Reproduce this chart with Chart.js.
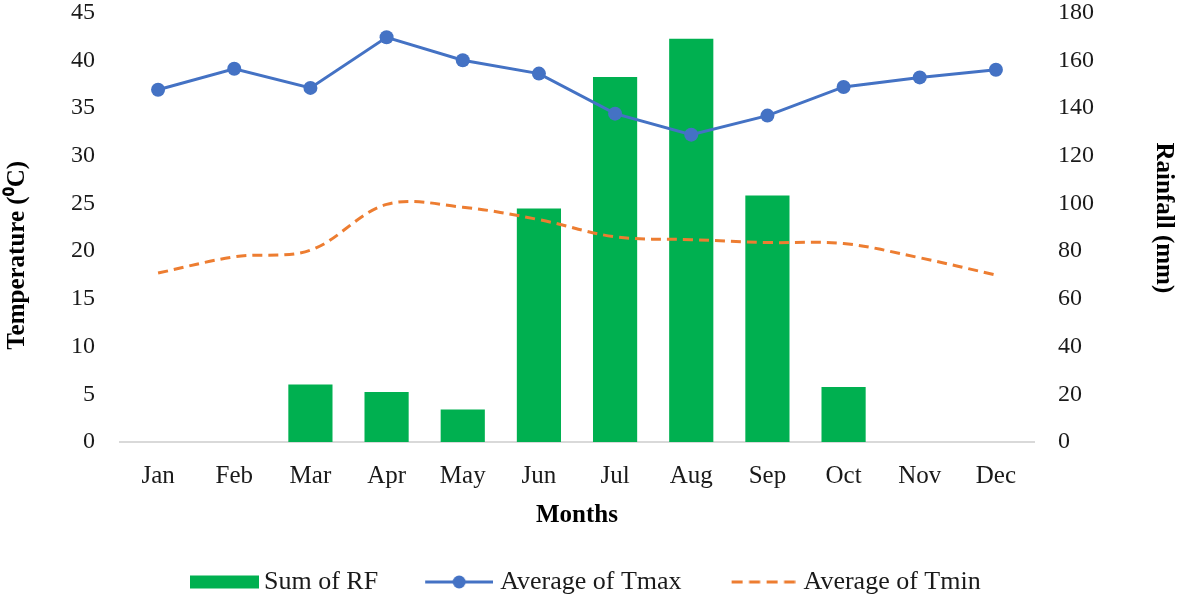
<!DOCTYPE html>
<html>
<head>
<meta charset="utf-8">
<title>Monthly rainfall and temperature</title>
<script src="https://cdn.jsdelivr.net/npm/chart.js@4/dist/chart.umd.min.js"></script>
<style>
    html, body { margin: 0; padding: 0; background: #ffffff; }
    #chartContainer { width: 1181px; height: 599px; }
</style>
</head>
<body>
<div id="chartContainer"><canvas id="climateChart"></canvas></div>
<script>
// Data
const months = ['Jan', 'Feb', 'Mar', 'Apr', 'May', 'Jun', 'Jul', 'Aug', 'Sep', 'Oct', 'Nov', 'Dec'];
const rainfall = [0, 0, 24.1, 21.0, 13.6, 97.9, 153.0, 169.0, 103.3, 23.1, 0, 0];
const tmax = [36.9, 39.1, 37.1, 42.4, 40.0, 38.6, 34.4, 32.2, 34.2, 37.2, 38.2, 39.0];
const tmin = [17.7, 19.4, 20.1, 24.9, 24.6, 23.3, 21.5, 21.2, 20.9, 20.8, 19.3, 17.5];

const seriesNames = ['Sum of RF', 'Average of Tmax', 'Average of Tmin'];
const tempTicks = { min: 0, max: 45, step: 5 };
const rainTicks = { min: 0, max: 180, step: 20 };

const GREEN = '#00B050';
const BLUE = '#4472C4';
const ORANGE = '#ED7D31';
const FONT = "'Liberation Serif', 'Times New Roman', serif";

// Small canvases used as legend symbols
const legendIcon = (width, height, offset, draw) => {
    const c = document.createElement('canvas');
    c.width = width;
    c.height = height;
    const ctx = c.getContext('2d');
    ctx.translate(offset, 0);
    draw(ctx, height / 2);
    return c;
};

const rfIcon = legendIcon(77, 14, 8, (ctx, mid) => {
    ctx.fillStyle = GREEN;
    ctx.fillRect(0, mid - 6.5, 69, 13);
});

const tmaxIcon = legendIcon(73, 16, 5, (ctx, mid) => {
    ctx.strokeStyle = BLUE;
    ctx.lineWidth = 3;
    ctx.beginPath();
    ctx.moveTo(0, mid);
    ctx.lineTo(68, mid);
    ctx.stroke();
    ctx.fillStyle = BLUE;
    ctx.beginPath();
    ctx.arc(34, mid, 6.5, 0, Math.PI * 2);
    ctx.fill();
});

const tminIcon = legendIcon(71, 6, 7, (ctx, mid) => {
    ctx.strokeStyle = ORANGE;
    ctx.lineWidth = 3;
    ctx.setLineDash([11, 6.5]);
    ctx.beginPath();
    ctx.moveTo(0, mid);
    ctx.lineTo(64, mid);
    ctx.stroke();
});

const legendIcons = [rfIcon, tmaxIcon, tminIcon];

// Excel put the legend left of centre, move it after layout
const legendPlacement = {
    id: 'legendPlacement',
    afterLayout(chart) {
        chart.legend.left = 142;
        chart.legend.top = 521;
    }
};

// fixed width for the y axes, and no extra room above the top tick
const fitYAxis = (width) => (scale) => {
    scale.width = width;
    scale.paddingTop = 12.5;
    scale.paddingBottom = 0;
};

const ctx = document.getElementById('climateChart').getContext('2d');

new Chart(ctx, {
    type: 'bar',
    data: {
        labels: months,
        datasets: [
            {
                type: 'bar',
                label: seriesNames[0],
                data: rainfall,
                yAxisID: 'yRain',
                backgroundColor: GREEN,
                borderWidth: 0,
                barPercentage: 0.58,
                categoryPercentage: 1,
                order: 3
            },
            {
                type: 'line',
                label: seriesNames[1],
                data: tmax,
                yAxisID: 'yTemp',
                borderColor: BLUE,
                backgroundColor: BLUE,
                borderWidth: 3,
                pointRadius: 7,
                pointBorderWidth: 0,
                pointBackgroundColor: BLUE,
                tension: 0,
                order: 1
            },
            {
                type: 'line',
                label: seriesNames[2],
                data: tmin,
                yAxisID: 'yTemp',
                borderColor: ORANGE,
                backgroundColor: ORANGE,
                borderWidth: 3,
                borderDash: [10, 6],
                pointRadius: 0,
                tension: 0.35,
                order: 2
            }
        ]
    },
    options: {
        responsive: true,
        maintainAspectRatio: false,
        animation: false,
        layout: { padding: 0 },
        plugins: {
            tooltip: { enabled: false },
            legend: {
                position: 'bottom',
                align: 'start',
                maxHeight: 67,
                labels: {
                    usePointStyle: true,
                    pointStyleWidth: 61,
                    padding: 48,
                    color: '#1a1a1a',
                    font: { family: FONT, size: 26 },
                    generateLabels: (chart) => seriesNames.map((name, i) => ({
                        text: name,
                        fillStyle: 'transparent',
                        strokeStyle: 'transparent',
                        lineWidth: 0,
                        pointStyle: legendIcons[i],
                        hidden: false,
                        datasetIndex: i,
                        fontColor: '#1a1a1a'
                    }))
                }
            }
        },
        scales: {
            x: {
                offset: true,
                grid: { display: false, drawTicks: false },
                border: { display: true, color: '#d9d9d9', width: 2 },
                ticks: {
                    padding: 19,
                    color: '#1a1a1a',
                    font: { family: FONT, size: 25 }
                },
                title: {
                    display: true,
                    text: 'Months',
                    color: '#000000',
                    padding: { top: 0, bottom: 1 },
                    font: { family: FONT, size: 25, weight: 'bold' }
                },
                afterFit: (scale) => { scale.height = 90; }
            },
            yTemp: {
                position: 'left',
                min: tempTicks.min,
                max: tempTicks.max,
                grid: { display: false, drawTicks: false },
                border: { display: false },
                ticks: {
                    stepSize: tempTicks.step,
                    padding: 25,
                    color: '#1a1a1a',
                    font: { family: FONT, size: 24, lineHeight: 1 }
                },
                title: {
                    display: true,
                    // trailing spaces push the title down like in the original
                    text: 'Temperature (\u2070C)         ',
                    color: '#000000',
                    padding: { top: 3, bottom: 0 },
                    font: { family: FONT, size: 25, weight: 'bold' }
                },
                afterFit: fitYAxis(120)
            },
            yRain: {
                position: 'right',
                min: rainTicks.min,
                max: rainTicks.max,
                grid: { display: false, drawTicks: false },
                border: { display: false },
                ticks: {
                    stepSize: rainTicks.step,
                    padding: 24,
                    color: '#1a1a1a',
                    font: { family: FONT, size: 24, lineHeight: 1 }
                },
                title: {
                    display: true,
                    text: 'Rainfall (mm)   ',
                    color: '#000000',
                    padding: { top: 3, bottom: 0 },
                    font: { family: FONT, size: 25, weight: 'bold' }
                },
                afterFit: fitYAxis(147)
            }
        }
    },
    plugins: [legendPlacement]
});
</script>
</body>
</html>
